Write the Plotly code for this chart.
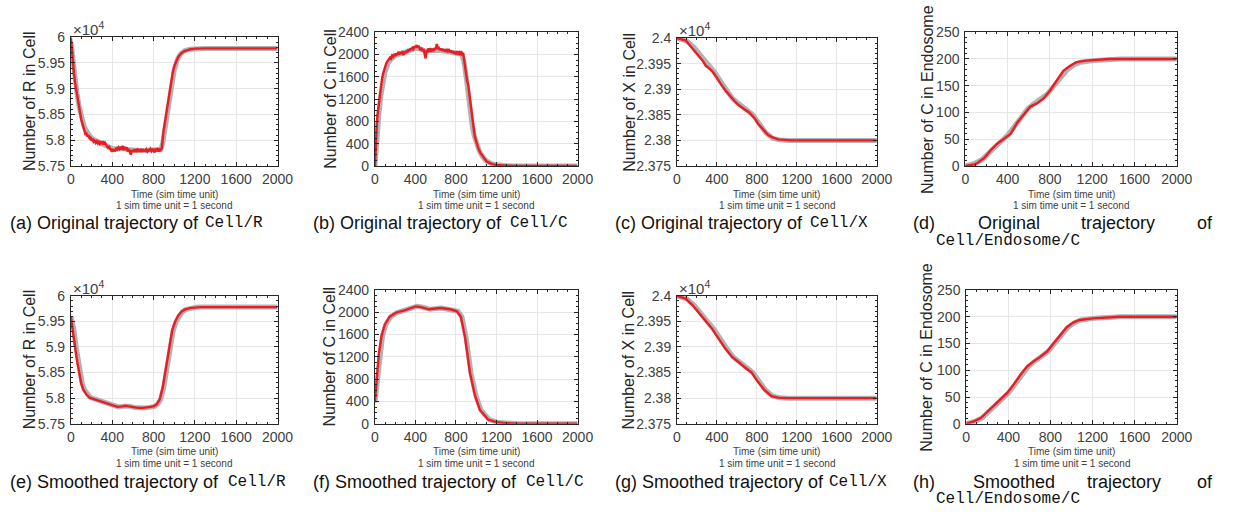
import plotly.graph_objects as go

W, H = 1242, 518

# ---------------- data ----------------
# (a) Original R in Cell (counts)
a_time = [0, 10, 20, 30, 40, 50, 60, 70, 80, 90, 100, 110, 120, 130, 140, 150, 160, 170, 180, 190,
          200, 210, 220, 230, 240, 250, 260, 270, 280, 290, 300, 310, 320, 330, 340, 350, 360, 370,
          380, 390, 400, 410, 420, 430, 440, 450, 460, 470, 480, 490, 500, 510, 520, 530, 540, 550,
          560, 570, 580, 590, 600, 610, 620, 630, 640, 650, 660, 670, 680, 690, 700, 710, 720, 730,
          740, 750, 760, 770, 780, 790, 800, 810, 820, 830, 840, 850, 860, 870, 880, 895, 910, 925,
          940, 955, 970, 985, 1000, 1020, 1040, 1070, 1100, 1150, 1200, 1300, 2000]
a_R = [59990, 59700, 59480, 59300, 59120, 58990, 58880, 58760, 58620, 58520, 58400, 58330, 58240,
       58180, 58120, 58130, 58070, 58100, 58040, 58050, 57990, 58030, 57970, 57990, 57950, 57980,
       57940, 57970, 57930, 57960, 57940, 57980, 57920, 57950, 57900, 57880, 57850, 57870, 57830,
       57800, 57830, 57780, 57810, 57800, 57840, 57820, 57860, 57830, 57870, 57820, 57890, 57830,
       57850, 57810, 57860, 57780, 57830, 57790, 57720, 57810, 57770, 57820, 57790, 57810, 57770,
       57820, 57800, 57790, 57830, 57780, 57810, 57800, 57790, 57820, 57780, 57810, 57800, 57830,
       57790, 57820, 57810, 57760, 57840, 57790, 57820, 57780, 57840, 57810, 57850, 58150, 58350,
       58500, 58700, 58900, 59100, 59300, 59430, 59540, 59620, 59690, 59730, 59760, 59775, 59780,
       59780]

# (b) Original C in Cell
b_time = [0, 5, 10, 20, 30, 40, 50, 60, 70, 80, 90, 100, 110, 120, 130, 140, 150, 160, 170, 180,
          190, 200, 210, 220, 230, 240, 250, 260, 270, 280, 290, 300, 310, 320, 330, 340, 350, 360,
          370, 380, 390, 400, 410, 420, 430, 440, 450, 460, 470, 480, 490, 500, 510, 520, 530, 540,
          550, 560, 570, 580, 590, 600, 610, 620, 630, 640, 650, 660, 670, 680, 690, 700, 710, 720,
          730, 740, 750, 760, 770, 780, 790, 800, 810, 820, 830, 840, 850, 860, 870, 880, 890, 900,
          910, 920, 930, 940, 950, 960, 970, 980, 990, 1000, 1020, 1040, 1060, 1080, 1100, 1130,
          1160, 1200, 1250, 1300, 1400, 1500, 2000]
b_C = [0, 300, 550, 800, 980, 1150, 1300, 1450, 1560, 1650, 1720, 1790, 1830, 1870, 1900, 1920,
       1950, 1930, 1980, 1960, 2010, 1970, 2020, 1990, 2050, 2000, 2040, 2010, 2060, 1990, 2050,
       2020, 2070, 2040, 2090, 2060, 2110, 2080, 2120, 2100, 2150, 2120, 2170, 2130, 2160, 2110,
       2080, 2120, 2060, 2100, 2030, 1930, 2080, 2060, 2110, 2050, 2090, 2070, 2100, 2060, 2120,
       2090, 2190, 2100, 2120, 2080, 2110, 2070, 2100, 2060, 2090, 2050, 2100, 2060, 2080, 2040,
       2070, 2030, 2060, 2020, 2050, 2000, 2060, 2020, 2040, 1990, 2060, 2010, 2030, 1900, 1740,
       1620, 1530, 1460, 1300, 1150, 1000, 850, 720, 600, 500, 420, 320, 240, 180, 120, 85, 55, 32,
       18, 10, 5, 2, 0, 0]

# (c) Original X in Cell
c_time = [0, 40, 89, 120, 155, 190, 221, 260, 287, 320, 353, 390, 418, 450, 484, 520, 550, 580,
          616, 650, 682, 720, 748, 780, 814, 850, 880, 910, 946, 980, 1012, 1080, 1143, 2000]
c_X = [24000, 23998, 23995, 23988, 23979, 23972, 23964, 23955, 23946, 23941, 23935, 23925, 23916,
       23907, 23898, 23889, 23882, 23876, 23869, 23865, 23860, 23855, 23850, 23843, 23832, 23824,
       23816, 23811, 23807, 23804, 23802, 23801, 23800, 23800]

# (d) Original C in Endosome
d_time = [0, 87, 118, 180, 243, 305, 367, 429, 491, 554, 616, 678, 740, 802, 865, 927, 989, 1051,
          1145, 1269, 1362, 2000]
d_E = [0, 3, 6, 15, 30, 42, 51, 60, 81, 96, 111, 117, 126, 141, 160, 178, 187, 194, 197, 199, 200,
       200]

# (e) Smoothed R in Cell
e_time = [0, 20, 40, 60, 80, 100, 120, 150, 180, 210, 250, 300, 350, 400, 450, 500, 530, 560, 600,
          650, 700, 750, 800, 830, 860, 890, 920, 950, 980, 1010, 1040, 1070, 1100, 1150, 1200, 1250,
          2000]
e_R = [59590, 59340, 59010, 58720, 58500, 58290, 58170, 58070, 58010, 57990, 57960, 57930, 57890,
       57850, 57830, 57840, 57850, 57840, 57820, 57810, 57810, 57820, 57840, 57880, 57980, 58220,
       58590, 59010, 59320, 59500, 59620, 59690, 59730, 59760, 59775, 59780, 59780]

# (f) Smoothed C in Cell
f_time = [0, 16, 39, 65, 97, 146, 210, 291, 356, 404, 453, 534, 647, 744, 809, 848, 890, 938, 987,
          1036, 1117, 1197, 1294, 1400, 2000]
f_C = [404, 796, 1258, 1575, 1777, 1921, 1996, 2036, 2077, 2106, 2094, 2054, 2077, 2054, 2019,
       1921, 1546, 912, 508, 248, 75, 29, 12, 0, 0]

# (g) Smoothed X in Cell
g_time = [0, 89, 155, 221, 287, 353, 418, 484, 550, 616, 682, 748, 814, 880, 946, 1012, 1100, 2000]
g_X = [24000, 23994, 23982, 23967, 23951, 23935, 23916, 23897, 23881, 23870, 23860, 23850, 23831,
       23815, 23804, 23801, 23800, 23800]

# (h) Smoothed C in Endosome
h_time = [0, 78, 141, 203, 266, 328, 391, 453, 516, 578, 641, 703, 766, 828, 891, 953, 1016, 1078,
          1203, 1328, 1453, 2000]
h_E = [0, 5, 11, 23, 35, 47, 58, 74, 92, 107, 117, 125, 135, 150, 166, 180, 189, 194, 197, 199, 200,
       200]

# grey reference trajectories (drawn under the red ones)
ref_R_time = [0, 20, 40, 60, 80, 100, 130, 160, 200, 250, 300, 350, 400, 450, 500, 550, 600, 650,
              700, 750, 800, 840, 870, 890, 910, 930, 950, 975, 1000, 1030, 1060, 1100, 1150, 1200,
              1300, 2000]
ref_R = [59900, 59520, 59200, 58900, 58650, 58480, 58260, 58150, 58040, 57980, 57940, 57900, 57840,
         57830, 57840, 57820, 57800, 57800, 57800, 57805, 57805, 57810, 57820, 57950, 58250, 58500,
         58720, 59050, 59350, 59560, 59670, 59735, 59765, 59778, 59780, 59780]
ref_C_time = [0, 20, 40, 60, 80, 100, 130, 160, 200, 250, 300, 350, 400, 450, 500, 550, 600, 650,
              700, 750, 800, 840, 860, 880, 900, 920, 940, 960, 980, 1000, 1030, 1060, 1100, 1150,
              1200, 1300, 1400, 2000]
ref_C = [0, 550, 950, 1280, 1520, 1690, 1840, 1920, 1980, 2010, 2040, 2080, 2110, 2100, 2060, 2070,
         2080, 2070, 2060, 2050, 2030, 2010, 1990, 1850, 1600, 1280, 980, 720, 540, 420, 270, 170,
         90, 40, 20, 5, 0, 0]
ref_X_time = [0, 100, 170, 240, 300, 370, 430, 500, 560, 630, 700, 760, 830, 890, 960, 1030, 1120,
              2000]
ref_X = [24000, 23994, 23982, 23967, 23951, 23935, 23916, 23897, 23881, 23870, 23860, 23850, 23831,
         23815, 23804, 23801, 23800, 23800]
ref_E_time = [0, 90, 152, 214, 277, 340, 402, 465, 528, 590, 652, 715, 778, 840, 902, 965, 1028,
              1090, 1215, 1340, 1465, 2000]
ref_E = [0, 5, 11, 23, 35, 47, 58, 74, 92, 107, 117, 125, 135, 150, 166, 180, 189, 194, 197, 199,
         200, 200]
# grey band of the smoothed R and C panels
ref_Rs_time = [0, 30, 50, 70, 90, 110, 130, 160, 190, 220, 260, 310, 360, 410, 460, 510, 540, 570,
               610, 660, 710, 760, 810, 840, 870, 900, 930, 960, 990, 1020, 1050, 1080, 1110, 1160,
               1210, 1260, 2000]
ref_Rs = [59600, 59340, 59010, 58720, 58500, 58290, 58170, 58070, 58010, 57990, 57960, 57930, 57890,
          57850, 57830, 57840, 57850, 57840, 57820, 57810, 57810, 57820, 57840, 57880, 57980, 58220,
          58590, 59010, 59320, 59500, 59620, 59690, 59730, 59760, 59775, 59780, 59780]
ref_Cs_time = [0, 26, 49, 75, 107, 156, 220, 301, 366, 414, 463, 544, 657, 754, 819, 858, 900, 948,
               997, 1046, 1127, 1207, 1304, 1410, 2000]
ref_Cs = [380, 796, 1258, 1575, 1777, 1921, 1996, 2036, 2077, 2106, 2094, 2054, 2077, 2054, 2019,
          1921, 1546, 912, 508, 248, 75, 29, 12, 0, 0]

# tick labels
x_ticks = [0, 400, 800, 1200, 1600, 2000]
R_ticks = [5.75, 5.8, 5.85, 5.9, 5.95, 6]
R_ticktext = ["5.75", "5.8", "5.85", "5.9", "5.95", "6"]
C_ticks = [0, 400, 800, 1200, 1600, 2000, 2400]
X_ticks = [2.375, 2.38, 2.385, 2.39, 2.395, 2.4]
X_ticktext = ["2.375", "2.38", "2.385", "2.39", "2.395", "2.4"]
E_ticks = [0, 50, 100, 150, 200, 250]

ylabels = ["Number of R in Cell", "Number of C in Cell", "Number of X in Cell",
           "Number of C in Endosome"]
captions = [
    ("(a) Original trajectory of", "Cell/R"),
    ("(b) Original trajectory of", "Cell/C"),
    ("(c) Original trajectory of", "Cell/X"),
    None,
    ("(e) Smoothed trajectory of", "Cell/R"),
    ("(f) Smoothed trajectory of", "Cell/C"),
    ("(g) Smoothed trajectory of", "Cell/X"),
    None,
]
# caption positions (pixels): start of sans part, start of mono part
cap_pos = [(4, 202), (312, 512), (619, 817), None, (4, 226), (312, 529), (619, 836), None]

# ---------------- layout geometry (pixels) ----------------
boxes = [
    (68, 278, 30, 163), (377, 583, 25, 163), (684, 887, 31, 163), (977, 1192, 25, 163),
    (68, 278, 297, 429), (377, 583, 291, 429), (684, 887, 297, 429), (978, 1192, 291, 429),
]
ytitle_x = [26, 331, 635, 938]

RED = "rgb(236,28,36)"
GREY = "rgb(178,178,178)"
AX = "#262626"
TICKC = "#404040"
GRID = "#e6e6e6"
SANS = "Liberation Sans, Arial, sans-serif"
CAPF = "Liberation Sans, sans-serif"
MONO = "Liberation Mono, monospace"
CAPC = "#111111"

series = [
    (a_time, [v / 1e4 for v in a_R], ref_R_time, [v / 1e4 for v in ref_R]),
    (b_time, b_C, ref_C_time, ref_C),
    (c_time, [v / 1e4 for v in c_X], ref_X_time, [v / 1e4 for v in ref_X]),
    (d_time, d_E, ref_E_time, ref_E),
    (e_time, [v / 1e4 for v in e_R], ref_Rs_time, [v / 1e4 for v in ref_Rs]),
    (f_time, f_C, ref_Cs_time, ref_Cs),
    (g_time, [v / 1e4 for v in g_X], ref_X_time, [v / 1e4 for v in ref_X]),
    (h_time, h_E, ref_E_time, ref_E),
]
yspec = [
    (R_ticks, R_ticktext, [5.75, 6.0], 0.01),
    (C_ticks, [str(t) for t in C_ticks], [0, 2400], 100),
    (X_ticks, X_ticktext, [2.375, 2.4], 0.001),
    (E_ticks, [str(t) for t in E_ticks], [0, 250], 10),
]

fig = go.Figure()
annotations = []


def px(x):
    return x / W


def py(y):
    return 1 - y / H


def text_ann(x, y, text, font, xanchor="left", yanchor="middle", **kw):
    d = dict(x=px(x), y=py(y), xref="paper", yref="paper", text=text, showarrow=False,
             font=font, xanchor=xanchor, yanchor=yanchor)
    d.update(kw)
    annotations.append(d)


for i, (bx0, bx1, by0, by1) in enumerate(boxes):
    n = i + 1
    xa = "x" if n == 1 else f"x{n}"
    ya = "y" if n == 1 else f"y{n}"
    tx, ty, rx, ry = series[i]
    fig.add_trace(go.Scatter(x=rx, y=ry, mode="lines", xaxis=xa, yaxis=ya,
                             line=dict(color=GREY, width=5), showlegend=False, hoverinfo="skip"))
    fig.add_trace(go.Scatter(x=tx, y=ty, mode="lines", xaxis=xa, yaxis=ya,
                             line=dict(color=RED, width=2.4), showlegend=False))
    col = i % 4
    ticks, ttext, rng, minor = yspec[col]
    common = dict(showline=True, linecolor=AX, linewidth=1, mirror="allticks", ticks="inside",
                  ticklen=4, tickcolor=AX, showgrid=True, gridcolor=GRID, gridwidth=1,
                  zeroline=False, tickfont=dict(family=SANS, size=14, color=TICKC))
    fig.update_layout(**{
        ("xaxis" if n == 1 else f"xaxis{n}"): dict(
            domain=[px(bx0), px(bx1)], anchor=ya, range=[0, 2000], tickvals=x_ticks,
            minor=dict(ticks="inside", ticklen=2, dtick=100, tickcolor=AX, showgrid=False),
            **common),
        ("yaxis" if n == 1 else f"yaxis{n}"): dict(
            domain=[py(by1), py(by0)], anchor=xa, range=rng, tickvals=ticks, ticktext=ttext,
            minor=dict(ticks="inside", ticklen=2, dtick=minor, tickcolor=AX, showgrid=False),
            ticklabelstandoff=2, **common),
    })
    cy = (by0 + by1) / 2
    text_ann(ytitle_x[col], cy, ylabels[col], dict(family=SANS, size=16, color=AX),
             xanchor="center", textangle=-90)
    cx = (bx0 + bx1) / 2
    row_off = 0 if i < 4 else 266
    text_ann(cx, 192 + row_off, "Time (sim time unit)", dict(family=SANS, size=10, color=TICKC),
             xanchor="center")
    text_ann(cx, 204 + row_off, "1 sim time unit = 1 second",
             dict(family=SANS, size=10, color=TICKC), xanchor="center")
    if col in (0, 2):
        text_ann(bx0, by0, "\u00d710<sup>4</sup>", dict(family=SANS, size=15, color=TICKC),
                 yanchor="bottom", yshift=-3)
    cap = captions[i]
    if cap is not None:
        cap_y = 222 if i < 4 else 489
        sx, mx = cap_pos[i]
        text_ann(sx, cap_y, cap[0], dict(family=CAPF, size=18, color=CAPC))
        text_ann(mx, cap_y, cap[1], dict(family=MONO, size=16, color=CAPC))

# justified two-line captions (d) and (h)
for words, ycap in [([("(d)", 922), ("Original", 988), ("trajectory", 1093), ("of", 1210)], 222),
                    ([("(h)", 922), ("Smoothed", 983), ("trajectory", 1099), ("of", 1210)], 489)]:
    for txt, xl in words:
        text_ann(xl, ycap, txt, dict(family=CAPF, size=18, color=CAPC))
    text_ann(945, ycap + 18, "Cell/Endosome/C", dict(family=MONO, size=16, color=CAPC))

fig.update_layout(width=W, height=H, margin=dict(l=0, r=0, t=0, b=0),
                  paper_bgcolor="white", plot_bgcolor="white", annotations=annotations,
                  showlegend=False)

fig.write_html(
    "out.html",
    config={"displayModeBar": False},
    post_script=("document.body.style.margin='0px';"
                 "document.documentElement.style.overflow='hidden';"
                 "document.body.style.overflow='hidden';"),
)
